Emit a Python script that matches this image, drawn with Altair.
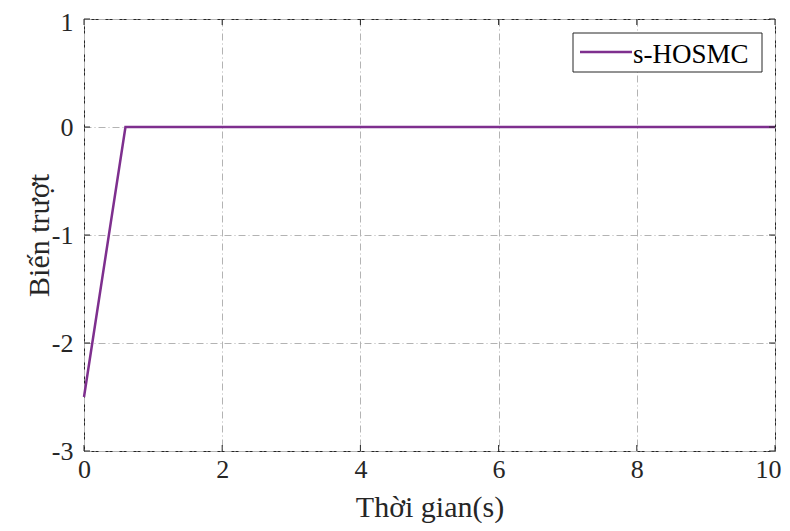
import altair as alt
import pandas as pd

# data
t_vals = [0.0, 0.6, 10.0]
s_vals = [-2.5, 0.0, 0.0]
series_name = "s-HOSMC"
x_ticks = [0, 2, 4, 6, 8, 10]
y_ticks = [-3, -2, -1, 0, 1]

W, H = 691, 432
FONT = "Liberation Serif"
LINE_COLOR = "#7E2F8E"

df = pd.DataFrame({"x": t_vals, "y": s_vals, "series": [series_name] * len(t_vals)})
dfx = pd.DataFrame({"x": x_ticks})
dfy = pd.DataFrame({"y": y_ticks})
dfl = pd.DataFrame({"series": [series_name]})

xscale = alt.Scale(domain=[0, 10], nice=False, zero=False)
yscale = alt.Scale(domain=[-3, 1], nice=False, zero=False)

grid_kw = dict(grid=True, gridColor="#b3b3b3", gridDash=[7, 3, 1, 3], gridWidth=1,
               ticks=False, domain=False, labelFont=FONT, labelFontSize=26,
               labelColor="#262626", titleFont=FONT, titleFontSize=30,
               titleFontWeight="normal", titleColor="#262626", labelFlush=False,
               labelExpr="datum.value + ''")

xaxis = alt.Axis(values=x_ticks, title="Thời gian(s)", labelPadding=5,
                 titlePadding=10,
                 labelOffset={"condition": {"test": "datum.value == 10", "value": -7}, "value": 0},
                 **grid_kw)
yaxis = alt.Axis(values=y_ticks, title="Biến trượt", labelPadding=11,
                 titlePadding=-3,
                 labelOffset={"condition": {"test": "datum.value == 1", "value": 3}, "value": 0},
                 **grid_kw)

line = alt.Chart(df).mark_line(strokeWidth=2.5, color=LINE_COLOR).encode(
    x=alt.X("x:Q", scale=xscale, axis=xaxis),
    y=alt.Y("y:Q", scale=yscale, axis=yaxis),
)

tick_color = "#262626"
bottom = alt.Chart(dfx).mark_rule(color=tick_color).encode(
    x=alt.X("x:Q", scale=xscale, axis=xaxis), y=alt.value(H), y2=alt.value(H - 6))
top = alt.Chart(dfx).mark_rule(color=tick_color).encode(
    x=alt.X("x:Q", scale=xscale, axis=xaxis), y=alt.value(0), y2=alt.value(6))
left = alt.Chart(dfy).mark_rule(color=tick_color).encode(
    y=alt.Y("y:Q", scale=yscale, axis=yaxis), x=alt.value(0), x2=alt.value(6))
right = alt.Chart(dfy).mark_rule(color=tick_color).encode(
    y=alt.Y("y:Q", scale=yscale, axis=yaxis), x=alt.value(W), x2=alt.value(W - 6))

# legend (drawn as marks)
leg_box = alt.Chart(dfl).mark_rect(fill="white", stroke="#262626", strokeWidth=1).encode(
    x=alt.value(489), x2=alt.value(678), y=alt.value(14), y2=alt.value(53))
leg_line = alt.Chart(dfl).mark_rule(color=LINE_COLOR, strokeWidth=2.5).encode(
    x=alt.value(496), x2=alt.value(548), y=alt.value(33))
leg_text = alt.Chart(dfl).mark_text(font=FONT, fontSize=27, align="left",
                                    baseline="alphabetic", color="#000000").encode(
    x=alt.value(549), y=alt.value(44), text="series:N")

chart = alt.layer(line, bottom, top, left, right, leg_box, leg_line, leg_text).properties(
    width=W, height=H,
    background="white",
    autosize=alt.AutoSizeParams(type="none"),
    padding={"left": 76, "top": 11, "right": 7, "bottom": 72},
).configure_view(stroke="#262626", strokeWidth=1)

chart.save("out.html", embed_options={"renderer": "svg", "actions": False})
